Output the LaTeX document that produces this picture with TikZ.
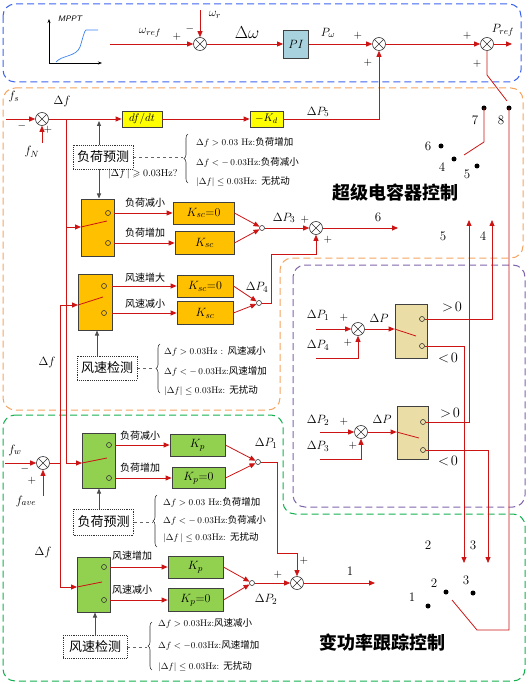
\documentclass[tikz,border=0pt]{standalone}
\usepackage{amsmath,amssymb}
\usepackage{fontspec}
\newfontfamily\cjk{Noto Sans CJK SC}
\usetikzlibrary{arrows.meta,decorations.pathreplacing}
\definecolor{lr}{RGB}{204,20,20}
\definecolor{blueF}{RGB}{60,100,240}
\definecolor{orangeF}{RGB}{245,165,95}
\definecolor{purpleF}{RGB}{128,100,170}
\definecolor{greenF}{RGB}{20,176,80}
\definecolor{goldF}{RGB}{255,192,0}
\definecolor{yelF}{RGB}{255,255,0}
\definecolor{grnF}{RGB}{146,208,80}
\definecolor{tanF}{RGB}{235,221,166}
\definecolor{piF}{RGB}{168,210,222}
\definecolor{curveB}{RGB}{60,130,240}
\tikzset{
  ln/.style={draw=lr, line width=0.8pt},
  arr/.style={ln, -{Triangle[length=6pt,width=5pt]}},
  barr/.style={draw=black!70, line width=0.8pt, -{Triangle[length=5pt,width=4pt]}},
  sumc/.style={circle, draw=black!80, fill=white, minimum size=13pt, inner sep=0pt, line width=0.6pt,
    path picture={\draw[line width=0.6pt] (path picture bounding box.north west)--(path picture bounding box.south east)
      (path picture bounding box.north east)--(path picture bounding box.south west);}},
  jn/.style={circle, draw=black!80, fill=white, minimum size=5pt, inner sep=0pt, line width=0.6pt},
  scir/.style={circle, draw=black!80, minimum size=5pt, inner sep=0pt, line width=0.6pt},
  bdot/.style={circle, fill=black, minimum size=5pt, inner sep=0pt},
  blk/.style={draw=black!75, line width=0.8pt, inner sep=0pt},
  obox/.style={blk, fill=goldF},
  ybox/.style={blk, fill=yelF},
  gbox/.style={blk, fill=grnF},
  tbox/.style={blk, fill=tanF},
  pibox/.style={blk, fill=piF},
  detbox/.style={draw=black!80, densely dotted, line width=0.9pt, fill=white, minimum width=60pt, minimum height=24pt, inner sep=0pt, font=\cjk\fontsize{13}{13}\selectfont},
  lab/.style={inner sep=0pt, font=\fontsize{12.5}{12.5}\selectfont},
  pm/.style={inner sep=0pt, font=\fontsize{11}{11}\selectfont},
  num/.style={inner sep=0pt, font=\fontsize{13}{13}\selectfont},
  cl/.style={inner sep=0pt, font=\cjk\fontsize{10}{10}\selectfont},
  bt/.style={anchor=west, inner sep=0pt, font=\fontsize{9.5}{10}\selectfont},
  brc/.style={draw=black!80, line width=0.6pt, decorate, decoration={brace, amplitude=4pt}},
  dsh/.style={draw=black!60, dashed, line width=0.8pt},
  ttl/.style={inner sep=0pt, font=\cjk\bfseries\fontsize{18}{18}\selectfont},
  frame/.style={dash pattern=on 7pt off 4pt, line width=1pt, rounded corners=12pt},
  cmp/.style={inner sep=0pt, font=\fontsize{15}{15}\selectfont}
}
\begin{document}
\begin{tikzpicture}[x=1pt,y=-1pt]
\useasboundingbox (0,0) rectangle (530,684);
% frames
\draw[frame, draw=blueF] (3,4) rectangle (521,82);
\draw[frame, draw=orangeF] (3,88) -- (523,88) -- (523,258) -- (280,258) -- (280,410) -- (3,410) -- cycle;
\draw[frame, draw=purpleF] (293,265) rectangle (525,507);
\draw[frame, draw=greenF] (3,415) -- (283,415) -- (283,514) -- (525,514) -- (525,681) -- (3,681) -- cycle;

% ===== top MPPT part
\draw[-{Stealth[length=4pt,width=3pt]}, line width=0.6pt] (49,63) -- (49,19);
\draw[-{Stealth[length=4pt,width=3pt]}, line width=0.6pt] (49,63) -- (102,63);
\draw[draw=curveB, line width=0.7pt] (56,62) .. controls (62,55) and (76,57) .. (80,47) .. controls (83,38) and (84,31) .. (86,30) -- (98,30);
\node[inner sep=0pt, font=\sffamily\itshape\fontsize{8}{8}\selectfont] at (70,19) {MPPT};
\coordinate (wref) at (110,44);
\coordinate (wr) at (200,10);
\node[sumc] (sum1) at (200,44) {};
\node[lab] at (150,33) {$\omega_{ref}$};
\node[lab] at (215,15) {$\omega_r$};
\node[pm] at (177,37) {$+$};
\node[pm] at (190,29) {$-$};
\node[inner sep=0pt, font=\fontsize{16}{16}\selectfont] at (247,33) {$\Delta\omega$};
\node[pibox, minimum width=25pt, minimum height=28pt] (pi) at (296,44) {\fontsize{13}{13}\selectfont$PI$};
\node[lab] at (328,33) {$P_\omega$};
\node[sumc] (sum2) at (379,44) {};
\node[pm] at (358,36) {$+$};
\node[pm] at (368,63) {$+$};
\node[sumc] (sum3) at (487,44) {};
\node[pm] at (467,36) {$+$};
\node[pm] at (477,64) {$+$};
\node[lab] at (503,30) {$P_{ref}$};
\coordinate (pout) at (512,44);
\draw[arr] (wref) -- (sum1);
\draw[arr] (wr) -- (sum1);
\draw[arr] (sum1) -- (pi);
\draw[arr] (pi) -- (sum2);
\draw[arr] (sum2) -- (sum3);
\draw[arr] (sum3) -- (pout);

% ===== top selector switch
\node[bdot] (d7) at (484,108) {};
\node[bdot] (d8) at (509,108) {};
\node[bdot] (d6) at (441,146) {};
\node[bdot] (d4) at (454,159) {};
\node[bdot] (d5) at (477,166) {};
\node[num] at (475,120) {7};
\node[num] at (501,120) {8};
\node[num] at (428,146) {6};
\node[num] at (442,167) {4};
\node[num] at (467,174) {5};
\draw[ln] (sum3.south) -- (487,75) -- (507,101);
\draw[ln] (d7.center) -- (484,142) -- (464,155);
\coordinate (arm2) at (452,600);
\draw[ln] (d8.center) -- (509,630) -- (477,630) -- (arm2);

% ===== supercapacitor part
\node[lab] at (14,97) {$f_s$};
\node[lab] at (32,152) {$f_N$};
\coordinate (fsin) at (6,119);
\coordinate (fnin) at (42,143);
\node[sumc] (sumfs) at (42,119) {};
\node[pm] at (22,126) {$-$};
\node[pm] at (48,130) {$+$};
\node[lab, font=\fontsize{13}{13}\selectfont] at (62,102) {$\Delta f$};
\draw[arr] (fsin) -- (sumfs);
\draw[arr] (fnin) -- (sumfs);
\node[ybox, minimum width=40pt, minimum height=16pt] (df) at (142,119) {\fontsize{11}{11}\selectfont$df/dt$};
\node[ybox, minimum width=33pt, minimum height=16pt] (kd) at (266.5,119) {\fontsize{11}{11}\selectfont$-K_d$};
\draw[arr] (sumfs) -- (df);
\draw[arr] (df) -- (kd);
\draw[arr] (kd.east) -| (sum2.south);
\node[lab] at (318,112) {$\Delta P_5$};

% load prediction (top)
\node[detbox] (lp1) at (103,157) {负荷预测};
\draw[barr] (99,145.5) -- (99,121);
\draw[barr] (99,169) -- (99,198.5);
\node[inner sep=0pt, anchor=west, font=\fontsize{10}{10}\selectfont] at (108,174) {$|\Delta f\,|\geqslant 0.03$Hz?};
\draw[dsh] (lp1.east) -- (183,157);
\draw[brc] (188,183) -- (188,134);
\node[bt] at (196,142) {$\Delta f>0.03$ Hz:{\cjk 负荷增加}};
\node[bt] at (196,162) {$\Delta f< -\,0.03$Hz:{\cjk 负荷减小}};
\node[bt] at (196,182) {$|\Delta f|\leq 0.03$Hz: {\cjk 无扰动}};

% orange switch 1
\coordinate (o1in) at (81,227);
\node[obox, minimum width=33pt, minimum height=57pt] (os1) at (97.5,227.5) {};
\node[scir] (os1a) at (108,213) {};
\node[scir] (os1b) at (108,243) {};
\draw[ln] (o1in) -- (107,221);
\node[cl] at (145,203) {负荷减小};
\node[cl] at (145,233) {负荷增加};
\node[obox, minimum width=61pt, minimum height=22pt] (k1) at (203.5,213) {\fontsize{13}{13}\selectfont$K_{sc}{=}0$};
\node[obox, minimum width=59pt, minimum height=23pt] (k2) at (204.5,243) {\fontsize{13}{13}\selectfont$K_{sc}$};
\draw[arr] (os1.east |- os1a) -- (k1.west);
\draw[arr] (os1.east |- os1b) -- (k2.west);
\node[jn] (j3) at (262,228) {};
\draw[arr] (k1.east) -- (j3);
\draw[arr] (k2.east) -- (j3);
\node[lab] at (284,218) {$\Delta P_3$};
\node[sumc] (sum4) at (316,228) {};
\node[pm] at (305,220) {$+$};
\node[pm] at (328,240) {$+$};
\draw[arr] (j3) -- (sum4);
\coordinate (o6) at (398,228);
\draw[arr] (sum4) -- (o6);
\node[num] at (378,217) {6};

% orange switch 2
\coordinate (o2in) at (78,305);
\node[obox, minimum width=34pt, minimum height=56pt] (os2) at (95,302) {};
\node[scir] (os2a) at (104,286) {};
\node[scir] (os2b) at (104,313) {};
\draw[ln] (o2in) -- (103,297);
\node[cl] at (145,278) {风速增大};
\node[cl] at (145,304) {风速减小};
\node[obox, minimum width=56pt, minimum height=22pt] (k3) at (205,286) {\fontsize{13}{13}\selectfont$K_{sc}{=}0$};
\node[obox, minimum width=56pt, minimum height=23pt] (k4) at (205,313) {\fontsize{13}{13}\selectfont$K_{sc}$};
\draw[arr] (os2.east |- os2a) -- (k3.west);
\draw[arr] (os2.east |- os2b) -- (k4.west);
\node[jn] (j4) at (259,303) {};
\draw[arr] (k3.east) -- (j4);
\draw[arr] (k4.east) -- (j4);
\node[lab] at (257,287) {$\Delta P_4$};
\draw[arr] (j4.east) -- (271,303) -- (271,254) -| (sum4.south);

\node[detbox] (ws1) at (107,368) {风速检测};
\draw[barr] (97,356) -- (97,330.5);
\draw[dsh] (ws1.east) -- (155,368);
\draw[brc] (160,393) -- (160,344);
\node[bt] at (164,351) {$\Delta f>0.03$Hz : {\cjk 风速减小}};
\node[bt] at (164,371) {$\Delta f<-\,0.03$Hz:{\cjk 风速增加}};
\node[bt] at (164,391) {$|\Delta f|\leq 0.03$Hz: {\cjk 无扰动}};

\node[ttl] at (395,193) {超级电容器控制};

% Δf distribution lines
\coordinate (dfa) at (66,119);
\coordinate (g1in) at (82,463);
\draw[ln] (dfa) -- (66,463);
\draw[arr] (66,227) -- (o1in);
\draw[arr] (66,463) -- (g1in);
\node[lab, font=\fontsize{13}{13}\selectfont] at (47,362) {$\Delta f$};

% ===== purple part
\node[sumc] (suma) at (358,329) {};
\coordinate (pa1) at (316,329);
\coordinate (pa2) at (316,358);
\draw[arr] (pa1) -- (suma);
\draw[arr] (pa2) -| (suma.south);
\node[lab] at (318,315) {$\Delta P_1$};
\node[lab] at (318,345) {$\Delta P_4$};
\node[pm] at (344,318) {$+$};
\node[pm] at (348,343) {$+$};
\node[lab] at (379,318) {$\Delta P$};
\node[tbox, minimum width=32pt, minimum height=54pt] (swa) at (411,331) {};
\draw[arr] (suma) -- (swa.west |- suma);
\node[scir] (swa1) at (422,319) {};
\node[scir] (swa2) at (422,346) {};
\draw[ln] (swa.west |- suma) -- (416,336);
\node[cmp] at (452,307) {$>\!0$};
\node[cmp] at (448,358) {$<\!0$};

\node[sumc] (sumb) at (361,432) {};
\coordinate (pb1) at (320,432);
\coordinate (pb2) at (320,459);
\draw[arr] (pb1) -- (sumb);
\draw[arr] (pb2) -| (sumb.south);
\node[lab] at (318,420) {$\Delta P_2$};
\node[lab] at (318,446) {$\Delta P_3$};
\node[pm] at (344,422) {$+$};
\node[pm] at (353,446) {$+$};
\node[lab] at (382,419) {$\Delta P$};
\node[tbox, minimum width=31pt, minimum height=53pt] (swb) at (412.5,432.5) {};
\draw[arr] (sumb) -- (swb.west |- sumb);
\node[scir] (swb1) at (423,422) {};
\node[scir] (swb2) at (423,450) {};
\draw[ln] (swb.west |- sumb) -- (419,438);
\node[cmp] at (450,413) {$>\!0$};
\node[cmp] at (448,461) {$<\!0$};

\coordinate (o4) at (492,220);
\coordinate (o5) at (469,220);
\coordinate (o2) at (464,563);
\coordinate (o3) at (488,563);
\draw[arr] (swa1.east) -- (492,319) -- (o4);
\draw[arr] (swa2.east) -- (464,346) -- (o2);
\draw[arr] (swb1.east) -- (469,422) -- (o5);
\draw[arr] (swb2.east) -- (488,450) -- (o3);
\node[num] at (443,236) {5};
\node[num] at (483,236) {4};
\node[num] at (428,545) {2};
\node[num] at (473,545) {3};

% ===== green part
\node[lab] at (15,450) {$f_w$};
\coordinate (fwin) at (5,463);
\coordinate (favin) at (43,496);
\node[sumc] (sumw) at (43,463) {};
\node[pm] at (25,469) {$-$};
\node[pm] at (32,481) {$+$};
\node[lab] at (26,501) {$f_{ave}$};
\draw[arr] (fwin) -- (sumw);
\draw[arr] (favin) -- (sumw);
\coordinate (dfw) at (60,463);
\coordinate (g2in) at (77,587);
\draw[ln] (sumw) -- (dfw);
\draw[ln] (60,305) -- (60,587);
\draw[arr] (60,305) -- (o2in);
\draw[arr] (60,587) -- (g2in);
\node[lab, font=\fontsize{13}{13}\selectfont] at (43,552) {$\Delta f$};

% green switch 1
\node[gbox, minimum width=33pt, minimum height=55pt] (gs1) at (98.5,460.5) {};
\node[scir] (gs1a) at (109,445) {};
\node[scir] (gs1b) at (109,478) {};
\draw[ln] (g1in) -- (107,458);
\node[cl] at (140,436) {负荷减小};
\node[cl] at (140,468) {负荷增加};
\node[gbox, minimum width=55pt, minimum height=22pt] (kp1) at (197.5,445) {\fontsize{13}{13}\selectfont$K_p$};
\node[gbox, minimum width=53pt, minimum height=21pt] (kp2) at (198.5,478) {\fontsize{13}{13}\selectfont$K_p{=}0$};
\draw[arr] (gs1.east |- gs1a) -- (kp1.west);
\draw[arr] (gs1.east |- gs1b) -- (kp2.west);
\node[jn] (j1) at (258,462) {};
\draw[arr] (kp1.east) -- (j1);
\draw[arr] (kp2.east) -- (j1);
\node[lab] at (266,443) {$\Delta P_1$};
\node[sumc] (sum5) at (297,583) {};
\draw[arr] (j1.east) -- (277,462) -- (277,553) -| (sum5.north);
\node[pm] at (304,561) {$+$};

\node[detbox, minimum height=26pt] (lp2) at (103.5,522) {负荷预测};
\draw[barr] (99,509) -- (99,488.5);
\draw[dsh] (lp2.east) -- (152,522);
\draw[brc] (157,547) -- (157,495);
\node[bt] at (163,502) {$\Delta f>0.03$ Hz:{\cjk 负荷增加}};
\node[bt] at (163,520) {$\Delta f< -\,0.03$Hz:{\cjk 负荷减小}};
\node[bt] at (163,538) {$|\Delta f\,|\leq 0.03$Hz: {\cjk 无扰动}};

% green switch 2
\node[gbox, minimum width=33pt, minimum height=55pt] (gs2) at (93.5,584.5) {};
\node[scir] (gs2a) at (104,567) {};
\node[scir] (gs2b) at (104,600) {};
\draw[ln] (g2in) -- (102,582);
\node[cl] at (132,556) {风速增加};
\node[cl] at (132,590) {风速减小};
\node[gbox, minimum width=55pt, minimum height=22pt] (kp3) at (195.5,567) {\fontsize{13}{13}\selectfont$K_p$};
\node[gbox, minimum width=55pt, minimum height=23pt] (kp4) at (195.5,600) {\fontsize{13}{13}\selectfont$K_p{=}0$};
\draw[arr] (gs2.east |- gs2a) -- (kp3.west);
\draw[arr] (gs2.east |- gs2b) -- (kp4.west);
\node[jn] (j2) at (252,583) {};
\draw[arr] (kp3.east) -- (j2);
\draw[arr] (kp4.east) -- (j2);
\node[lab] at (266,599) {$\Delta P_2$};
\node[pm] at (278,575) {$+$};
\draw[arr] (j2) -- (sum5);
\coordinate (o1) at (375,583);
\draw[arr] (sum5) -- (o1);
\node[num] at (350,571) {1};

\node[detbox, minimum width=64pt, minimum height=23pt] (ws2) at (95,647) {风速检测};
\draw[barr] (95,635.5) -- (95,612.5);
\draw[dsh] (ws2.east) -- (147,647);
\draw[brc] (152,670) -- (152,622);
\node[bt] at (158,623) {$\Delta f>0.03$Hz:{\cjk 风速减小}};
\node[bt] at (158,645) {$\Delta f<-0.03$Hz:{\cjk 风速增加}};
\node[bt] at (158,667) {$|\Delta f|\leq 0.03$Hz: {\cjk 无扰动}};

% bottom selector
\node[bdot] (b1) at (428,606) {};
\node[bdot] (b2) at (446,592) {};
\node[bdot] (b3) at (473,593) {};
\node[num] at (412,597) {1};
\node[num] at (434,583) {2};
\node[num] at (466,580) {3};

\node[ttl] at (382,643) {变功率跟踪控制};
\end{tikzpicture}
\end{document}
